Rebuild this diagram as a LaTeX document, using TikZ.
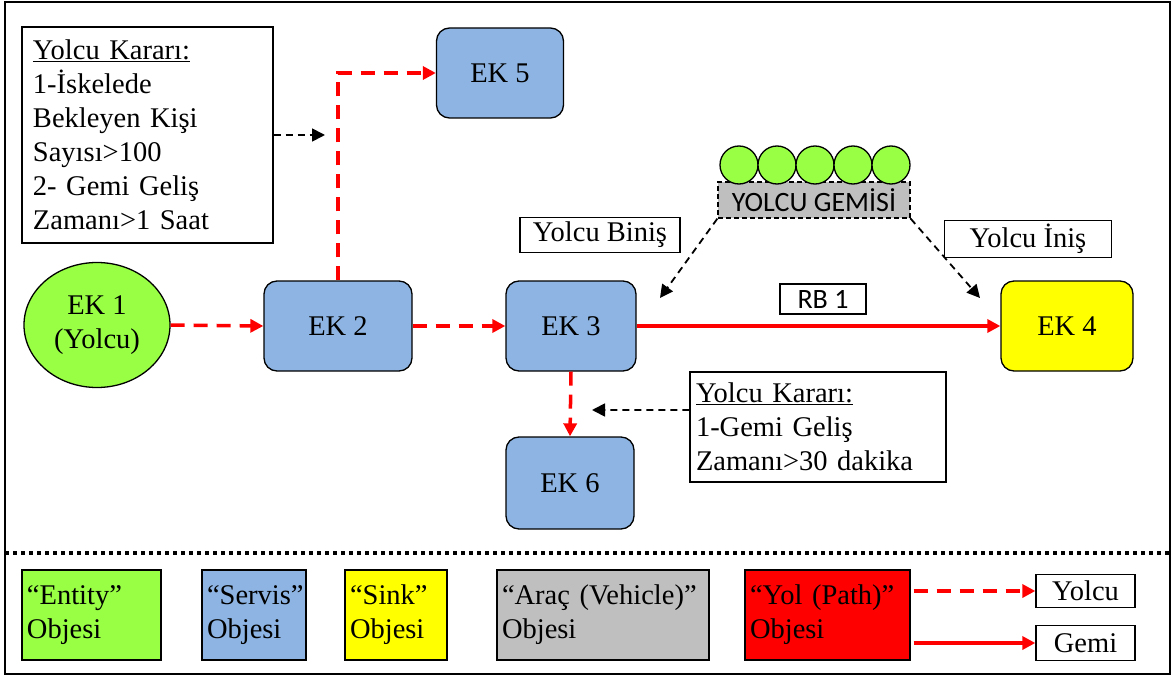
\documentclass[tikz,border=0pt]{standalone}
\usepackage{fontspec}
\setmainfont{Liberation Serif}
\newfontfamily\calibri{Carlito}
\usetikzlibrary{shapes.geometric,arrows.meta,calc}
\definecolor{entgreen}{RGB}{153,255,68}
\definecolor{srvblue}{RGB}{141,180,226}
\definecolor{snkyellow}{RGB}{255,255,0}
\definecolor{vehgray}{RGB}{191,191,191}
\definecolor{pathred}{RGB}{255,0,0}
\tikzset{
  txt/.style={font=\fontsize{28.5bp}{34bp}\selectfont},
  cal/.style={font=\calibri\fontsize{28bp}{30bp}\selectfont},
  srv/.style={txt, draw=black, line width=1.3bp, rounded corners=13bp, fill=srvblue, minimum width=#1, minimum height=90bp, inner sep=0pt},
  plainbox/.style={txt, draw=black, line width=1.3bp, fill=white, inner sep=0pt},
  legbox/.style={txt, draw=black, line width=1.3bp, minimum height=90bp, inner xsep=5bp, inner ysep=0pt, align=left},
  passenger/.style={draw=pathred, line width=3.5bp, dash pattern=on 14bp off 9bp, -{Triangle[length=13bp,width=13bp]}},
  ship/.style={draw=pathred, line width=3.5bp, -{Triangle[length=13bp,width=13bp]}},
  decision/.style={draw=black, line width=1.8bp, dash pattern=on 7bp off 5bp, -{Triangle[length=13bp,width=13bp]}},
  seat/.style={circle, draw=black, line width=1.3bp, fill=entgreen, minimum size=38bp, inner sep=0pt}
}
\begin{document}
\begin{tikzpicture}[x=1bp,y=-1bp]
\useasboundingbox (0,0) rectangle (1174,677);
% outer frame and separator
\draw[line width=2bp] (5,2) rectangle (1170,674);
\draw[line width=4bp, dash pattern=on 4bp off 4bp] (5,553) -- (1170,553);

% decision box (top left)
\node[plainbox, minimum width=251bp, minimum height=216bp, text width=229bp, align=left] (kar1) at (147.5,135)
  {\underline{Yolcu Kararı:}\\1-İskelede\\Bekleyen Kişi\\Sayısı>100\\2- Gemi Geliş\\Zamanı>1 Saat};

% model objects
\node[txt, ellipse, draw=black, line width=1.3bp, fill=entgreen, minimum width=146bp, minimum height=125bp, align=center, inner sep=0pt] (ek1) at (97,325) {EK 1\\(Yolcu)};
\node[srv=148bp] (ek2) at (338,326) {EK 2};
\node[srv=130bp] (ek3) at (571,326) {EK 3};
\node[srv=132bp, fill=snkyellow] (ek4) at (1067,326) {EK 4};
\node[srv=127bp] (ek5) at (500,73) {EK 5};
\node[srv=128bp, minimum height=92bp] (ek6) at (570,483) {EK 6};

% passenger ship with seats
\node[cal, draw=black, line width=1.3bp, dash pattern=on 5bp off 3bp, fill=vehgray, minimum width=192bp, minimum height=36bp, inner sep=0pt] (gemi) at (814,200) {YOLCU GEMİSİ};
\foreach \i/\x in {1/739,2/777,3/815,4/853,5/891}
  \node[seat] (c\i) at (\x,165) {};

% labels
\node[plainbox, minimum width=160bp, minimum height=35bp] (binis) at (600,235) {Yolcu Biniş};
\node[plainbox, minimum width=167bp, minimum height=37bp] (inis) at (1028,239) {Yolcu İniş};
\node[plainbox, cal, minimum width=86bp, minimum height=30bp] (rb) at (823,299) {RB 1};

% decision box (bottom right)
\node[plainbox, minimum width=256bp, minimum height=110bp, text width=244bp, align=left] (kar2) at (818,427)
  {\underline{Yolcu Kararı:}\\1-Gemi Geliş\\Zamanı>30 dakika};

% free ends of the decision arrows
\coordinate (d1) at (325,135);
\coordinate (d2) at (592,410);
\coordinate (d3) at (660,298);
\coordinate (d4) at (980,298);

% connectors
\draw[passenger] (ek1.east) -- (ek2.west);
\draw[passenger] (ek2.east) -- (ek3.west);
\draw[passenger] (ek2.north) |- (ek5.west);
\draw[passenger] (ek3.south) -- (ek6.north);
\draw[ship] (ek3.east) -- (ek4.west);
\draw[decision] (kar1.east) -- (d1);
\draw[decision] ([yshift=17bp]kar2.west) -- (d2);
\draw[decision] (gemi.south west) -- (d3);
\draw[decision] (gemi.south east) -- (d4);

% legend
\node[legbox, fill=entgreen, minimum width=139bp, text width=129bp] (lent) at (91.5,615) {“Entity”\\Objesi};
\node[legbox, fill=srvblue, minimum width=104bp, text width=94bp] (lsrv) at (254,615) {“Servis”\\Objesi};
\node[legbox, fill=snkyellow, minimum width=102bp, text width=92bp] (lsnk) at (396,615) {“Sink”\\Objesi};
\node[legbox, fill=vehgray, minimum width=212bp, text width=202bp] (lveh) at (603,615) {“Araç (Vehicle)”\\Objesi};
\node[legbox, fill=pathred, minimum width=165bp, text width=155bp] (lyol) at (827.5,615) {“Yol (Path)”\\Objesi};
\node[plainbox, minimum width=99bp, minimum height=33bp] (lyolcu) at (1085.5,591) {Yolcu};
\node[plainbox, minimum width=99bp, minimum height=35bp] (lgemi) at (1085.5,643) {Gemi};
\draw[passenger] ([xshift=3bp]lyol.east |- lyolcu.west) -- (lyolcu.west);
\draw[ship] ([xshift=3bp]lyol.east |- lgemi.west) -- (lgemi.west);
\end{tikzpicture}
\end{document}
